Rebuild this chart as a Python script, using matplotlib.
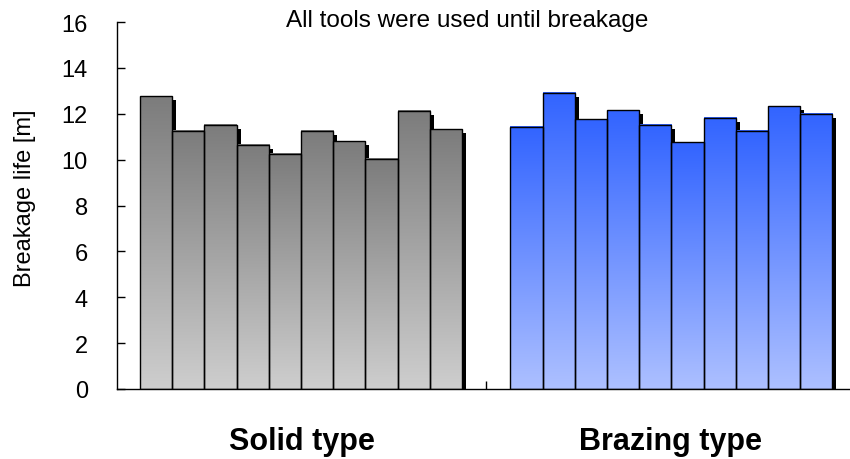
import numpy as np
import matplotlib
matplotlib.use('Agg')
import matplotlib.pyplot as plt
from matplotlib.colors import LinearSegmentedColormap
from matplotlib.transforms import ScaledTranslation

plt.rcParams['font.family'] = ['Liberation Sans', 'DejaVu Sans']

# breakage life [m] of each tool
solid_life = [12.76, 11.26, 11.52, 10.65, 10.26, 11.26, 10.81, 10.03, 12.13, 11.32]
brazing_life = [11.43, 12.92, 11.76, 12.15, 11.52, 10.75, 11.83, 11.25, 12.32, 11.99]
groups = ['Solid type', 'Brazing type']
ylabel = 'Breakage life [m]'
title = 'All tools were used until breakage'

fig = plt.figure(figsize=(8.5, 4.6), dpi=100)
ax = fig.add_axes([117 / 850, 70 / 460, 738 / 850, 367 / 460])

gray_cmap = LinearSegmentedColormap.from_list('g', ['#cecece', '#7c7c7c'])
blue_cmap = LinearSegmentedColormap.from_list('b', ['#adc0ff', '#3264ff'])

width = 0.0873
grad = np.linspace(0, 1, 256).reshape(-1, 1)
shadow_shift = ScaledTranslation(4 / 100, -4 / 100, fig.dpi_scale_trans)

for g, (vals, cmap, start) in enumerate([(solid_life, gray_cmap, 0.0623),
                                         (brazing_life, blue_cmap, 1.066)]):
    x = start + np.arange(len(vals)) * width
    # drop shadow
    shadows = ax.bar(x, vals, width, align='edge', color='black',
                     linewidth=0, zorder=1)
    for p in shadows:
        p.set_transform(ax.transData + shadow_shift)
    bars = ax.bar(x, vals, width, align='edge', color='none',
                  edgecolor='black', linewidth=1.0, zorder=3)
    for p in bars:
        x0, h = p.get_x(), p.get_height()
        ax.imshow(grad, extent=[x0, x0 + p.get_width(), 0, h], origin='lower',
                  cmap=cmap, aspect='auto', interpolation='bilinear', zorder=2)

ax.set_xlim(0, 2)
ax.set_ylim(0, 16)
ax.set_yticks(np.arange(0, 17, 2))
ax.set_xticks([1.0], labels=[''])
ax.set_xticks([0.5, 1.5], labels=groups, minor=True)
ax.tick_params(axis='y', direction='in', length=6, width=1, pad=21, labelsize=17)
ax.tick_params(axis='x', which='major', direction='in', length=6, width=1)
ax.tick_params(axis='x', which='minor', length=0, pad=27, labelsize=22)
for lab in ax.get_xticklabels(minor=True):
    lab.set_fontweight('bold')

for s in ['top', 'right']:
    ax.spines[s].set_visible(False)
ax.spines['left'].set_linewidth(1)
ax.spines['bottom'].set_linewidth(1)

fig.text(25 / 850, 1 - 198 / 460, ylabel, rotation=90, ha='center',
         va='center', fontsize=17)
ax.text(0.474, 0.989, title, transform=ax.transAxes, ha='center',
        va='baseline', fontsize=17.5)

fig.savefig('out.png', dpi=100)
